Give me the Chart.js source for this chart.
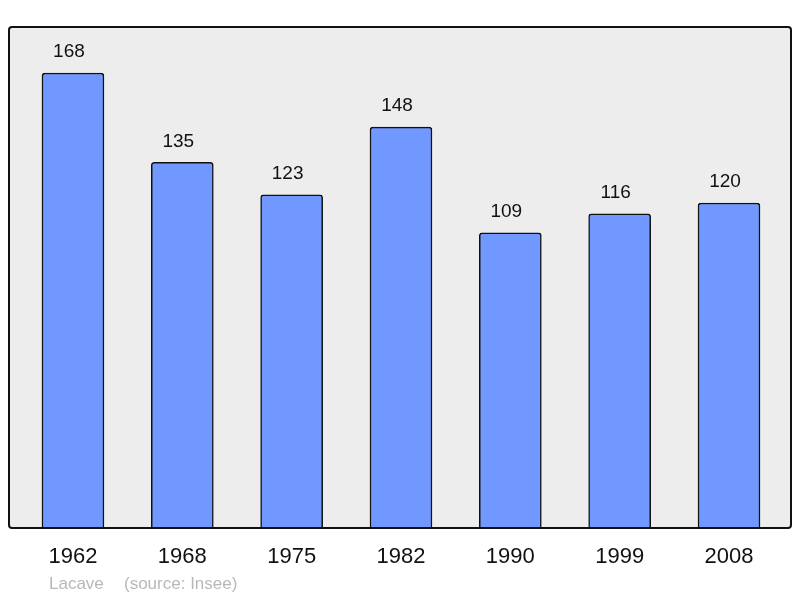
<!DOCTYPE html>
<html><head><meta charset="utf-8">
<script src="https://cdn.jsdelivr.net/npm/chart.js@4/dist/chart.umd.min.js"></script>
<style>html,body{margin:0;padding:0;background:#fff}#w{width:800px;height:598px}</style>
</head><body><div id="w"><canvas id="c" width="800" height="598"></canvas></div>
<script>
const years = ['1962','1968','1975','1982','1990','1999','2008'];
const population = [168,135,123,148,109,116,120];
const place = 'Lacave';
const source = '(source: Insee)';

const bgPlugin = {
  id:'bg',
  beforeDatasetsDraw(chart){
    const {ctx, chartArea:a} = chart;
    ctx.save();
    ctx.beginPath();
    ctx.roundRect(a.left, a.top, a.right-a.left, a.bottom-a.top, 3);
    ctx.fillStyle='#ededed'; ctx.fill();
    ctx.restore();
  },
  afterDatasetsDraw(chart){
    const {ctx, chartArea:a} = chart;
    ctx.save();
    ctx.beginPath();
    ctx.roundRect(a.left, a.top, a.right-a.left, a.bottom-a.top, 3);
    ctx.lineWidth=2; ctx.strokeStyle='#111'; ctx.stroke();
    const meta = chart.getDatasetMeta(0);
    ctx.font='19px "Liberation Sans", Arial, sans-serif';
    ctx.fillStyle='#111'; ctx.textAlign='center'; ctx.textBaseline='middle';
    meta.data.forEach((el,i)=>{ ctx.fillText(String(population[i]), el.x-4, el.y-21); });
    ctx.font='17px "Liberation Sans", Arial, sans-serif';
    ctx.fillStyle='#b8b8b8'; ctx.textAlign='left';
    ctx.fillText(place, 49, 584);
    ctx.fillText(source, 124, 584);
    ctx.restore();
  }
};

new Chart(document.getElementById('c'), {
  type:'bar',
  data:{ datasets:[{
    data: population.map((v,i)=>({x:i,y:v})),
    backgroundColor:'#7098ff', borderColor:'#111', borderWidth:1.5,
    borderRadius:{topLeft:3,topRight:3,bottomLeft:0,bottomRight:0}, borderSkipped:'bottom',
    barThickness:62
  }]},
  options:{
    responsive:false, animation:false,
    layout:{padding:{left:9,right:9,top:27,bottom:0}},
    plugins:{legend:{display:false}, tooltip:{enabled:false}},
    scales:{
      x:{type:'linear', min:-0.585, max:6.567, offset:false,
        grid:{display:false}, border:{display:false},
        afterBuildTicks(s){ s.ticks = years.map((y,i)=>({value:i})); },
        afterFit(s){ s.height = 70; },
        ticks:{padding:8, color:'#111', font:{size:22, family:'"Liberation Sans", Arial, sans-serif'},
          callback:(v)=>years[v], maxRotation:0, autoSkip:false}
      },
      y:{display:false, min:0, max:185}
    }
  },
  plugins:[bgPlugin]
});
</script></body></html>
